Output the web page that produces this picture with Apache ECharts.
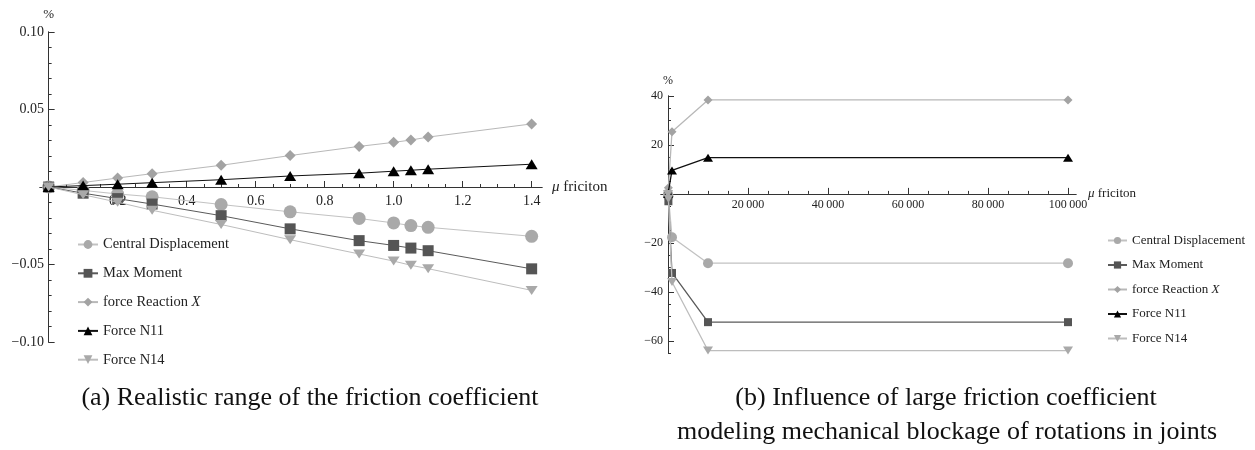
<!DOCTYPE html>
<html>
<head>
<meta charset="utf-8">
<script src="https://cdn.jsdelivr.net/npm/echarts@6/dist/echarts.min.js"></script>
<style>
  html, body { margin: 0; padding: 0; background: #fff; }
  #chart { width: 1255px; height: 450px; }
</style>
</head>
<body>
<div id="chart"></div>
<script>
// ---- data ----
const seriesNames = ['Central Displacement', 'Max Moment', 'force Reaction X', 'Force N11', 'Force N14'];

// (a) realistic range, values in %
const muA = [0, 0.1, 0.2, 0.3, 0.5, 0.7, 0.9, 1.0, 1.05, 1.1, 1.4];
const centralA = [0, -0.0022, -0.0045, -0.0063, -0.0113, -0.016, -0.0203, -0.0232, -0.0249, -0.026, -0.0318];
const momentA = [0, -0.004, -0.0075, -0.011, -0.0185, -0.027, -0.0346, -0.0377, -0.0394, -0.0411, -0.0528];
const reactionA = [0, 0.0029, 0.0058, 0.0086, 0.014, 0.0203, 0.0262, 0.0288, 0.0303, 0.0322, 0.0407];
const n11A = [0, 0.0009, 0.0018, 0.0028, 0.0047, 0.0071, 0.0089, 0.0102, 0.0108, 0.0115, 0.0147];
const n14A = [0, -0.005, -0.0098, -0.015, -0.0242, -0.034, -0.0432, -0.0478, -0.0505, -0.0527, -0.0667];

// (b) large friction coefficient
const muB = [0, 100, 1000, 10000, 100000];
const centralB = [0, -1, -17.7, -28.3, -28.3];
const momentB = [0, -3, -32.3, -52.4, -52.4];
const reactionB = [0, 2.5, 25.4, 38.4, 38.4];
const n11B = [0, 0.5, 9.6, 14.8, 14.8];
const n14B = [0, -2, -36, -64, -64];

// tick labels
const xTicksA = [0.2, 0.4, 0.6, 0.8, 1.0, 1.2, 1.4];
const yTicksA = [-0.1, -0.05, 0.05, 0.1];
const xTicksB = [20000, 40000, 60000, 80000, 100000];
const yTicksB = [-60, -40, -20, 20, 40];

const serif = "'Liberation Serif', 'DejaVu Serif', serif";
const axisColor = '#333';
const textColor = '#222';

const styles = [
  { symbol: 'circle', color: '#a9a9a9', line: '#c2c2c2', sizeA: 13, sizeB: 10, rotate: 0 },
  { symbol: 'rect', color: '#555555', line: '#5a5a5a', sizeA: 11, sizeB: 8, rotate: 0 },
  { symbol: 'diamond', color: '#a3a3a3', line: '#b8b8b8', sizeA: [11, 11], sizeB: [9, 9], rotate: 0 },
  { symbol: 'triangle', color: '#000000', line: '#111111', sizeA: [12, 10], sizeB: [10, 8], rotate: 0 },
  { symbol: 'triangle', color: '#a9a9a9', line: '#bdbdbd', sizeA: [12, 9], sizeB: [10, 8], rotate: 180 }
];

const valuesA = [centralA, momentA, reactionA, n11A, n14A];
const valuesB = [centralB, momentB, reactionB, n11B, n14B];

function minorTicks(from, to, step) {
  const out = [];
  for (let v = from; v <= to + step / 2; v += step) out.push(+v.toFixed(6));
  return out;
}
const minus = s => String(s).replace('-', '\u2212');
const thin = v => v >= 1000 ? Math.floor(v / 1000) + '\u2009' + String(v % 1000).padStart(3, '0') : String(v);

// plot areas: (a) x -0.025..1.43 / y -0.1..0.1 ; (b) x -1750..102000 / y -65..40
const gridA = { left: 40, top: 32, width: 502, height: 310 };
const gridB = { left: 661, top: 96, width: 415, height: 257 };
// label-only grids whose edges sit on the zero lines
const gridAx = { left: 40, top: 32, width: 502, height: 154 };
const gridAy = { left: 49, top: 32, width: 493, height: 310 };
const gridBx = { left: 661, top: 96, width: 415, height: 98 };
const gridBy = { left: 668, top: 96, width: 408, height: 257 };

function lineAxis(gridIndex, min, max, major, tickLen) {
  return {
    type: 'value', gridIndex, min, max,
    axisLine: { show: true, onZero: true, lineStyle: { color: axisColor, width: 1 } },
    splitLine: { show: false },
    axisTick: { inside: true, length: tickLen, customValues: major, lineStyle: { color: axisColor } },
    axisLabel: { show: false }
  };
}
function labelAxis(gridIndex, min, max, values, formatter, size, margin) {
  return {
    type: 'value', gridIndex, min, max,
    axisLine: { show: false },
    axisTick: { show: false },
    splitLine: { show: false },
    axisLabel: { customValues: values, formatter, fontFamily: serif, fontSize: size, color: textColor, margin }
  };
}
const hidden = (gridIndex, min, max) => ({ type: 'value', gridIndex, min, max, show: false });

const nameStyle = size => ({
  fontFamily: serif, fontSize: size, color: textColor,
  rich: { i: { fontFamily: serif, fontStyle: 'italic', fontSize: size, color: textColor } }
});

const xAxes = [
  Object.assign(lineAxis(0, -0.025, 1.43, [0].concat(xTicksA), 6), {
    name: '{i|\u03bc} friciton', nameLocation: 'end', nameGap: 10, nameTextStyle: nameStyle(15)
  }),
  Object.assign(lineAxis(1, -1750, 102000, [0].concat(xTicksB), 6), {
    name: '{i|\u03bc} friciton', nameLocation: 'end', nameGap: 12, nameTextStyle: nameStyle(13)
  }),
  lineAxis(2, -0.025, 1.43, minorTicks(0.05, 1.4, 0.05), 3),
  lineAxis(3, -1750, 102000, minorTicks(5000, 100000, 5000), 3),
  labelAxis(4, -0.025, 1.43, xTicksA, v => v.toFixed(1), 14, 8),
  hidden(5, 0, 1.43),
  labelAxis(6, -1750, 102000, xTicksB, thin, 12, 5),
  hidden(7, 0, 102000)
];

const yAxes = [
  Object.assign(lineAxis(0, -0.1, 0.1, [-0.1, -0.05, 0, 0.05, 0.1], 6), {
    name: '%', nameLocation: 'end', nameGap: 11, nameTextStyle: nameStyle(13)
  }),
  Object.assign(lineAxis(1, -65, 40, [-60, -40, -20, 0, 20, 40], 6), {
    name: '%', nameLocation: 'end', nameGap: 9, nameTextStyle: nameStyle(12)
  }),
  lineAxis(2, -0.1, 0.1, minorTicks(-0.1, 0.1, 0.01), 3),
  lineAxis(3, -65, 40, minorTicks(-65, 40, 5), 3),
  hidden(4, 0, 0.1),
  labelAxis(5, -0.1, 0.1, yTicksA, v => minus(v.toFixed(2)), 14, 5),
  hidden(6, 0, 40),
  labelAxis(7, -65, 40, yTicksB, v => minus(v), 12, 5)
];

function makeSeries(values, xs, axisIndex, sizeKey, lineWidth) {
  return seriesNames.map((name, i) => ({
    name,
    type: 'line',
    xAxisIndex: axisIndex,
    yAxisIndex: axisIndex,
    data: xs.map((x, j) => [x, values[i][j]]),
    symbol: styles[i].symbol,
    symbolSize: styles[i][sizeKey],
    symbolRotate: styles[i].rotate,
    showSymbol: true,
    itemStyle: { color: styles[i].color },
    lineStyle: { color: styles[i].line, width: lineWidth },
    z: 3 + i
  }));
}

const legendFormatter = name => name === 'force Reaction X' ? 'force Reaction {i|X}' : name;
const captionFont = '26px ' + serif;

const option = {
  animation: false,
  backgroundColor: '#fff',
  grid: [gridA, gridB, gridA, gridB, gridAx, gridAy, gridBx, gridBy].map(g => Object.assign({}, g)),
  xAxis: xAxes,
  yAxis: yAxes,
  legend: [
    {
      data: seriesNames, orient: 'vertical', left: 72, top: 232,
      itemWidth: 20, itemHeight: 11, itemGap: 13.8,
      formatter: legendFormatter,
      textStyle: nameStyle(14.5)
    },
    {
      data: seriesNames, orient: 'vertical', left: 1102, top: 229,
      itemWidth: 19, itemHeight: 9, itemGap: 11.5,
      formatter: legendFormatter,
      textStyle: nameStyle(13)
    }
  ],
  graphic: [
    { type: 'text', x: 310, y: 398, style: { text: '(a) Realistic range of the friction coefficient', font: captionFont, fill: '#111', align: 'center', verticalAlign: 'middle' } },
    { type: 'text', x: 946, y: 398, style: { text: '(b) Influence of large friction coefficient', font: captionFont, fill: '#111', align: 'center', verticalAlign: 'middle' } },
    { type: 'text', x: 947, y: 432, style: { text: 'modeling mechanical blockage of rotations in joints', font: captionFont, fill: '#111', align: 'center', verticalAlign: 'middle' } }
  ],
  series: makeSeries(valuesA, muA, 0, 'sizeA', 1).concat(makeSeries(valuesB, muB, 1, 'sizeB', 1.3))
};

const myChart = echarts.init(document.getElementById('chart'));
myChart.setOption(option);
window.onresize = function () {
  myChart.resize();
};
</script>
</body>
</html>
